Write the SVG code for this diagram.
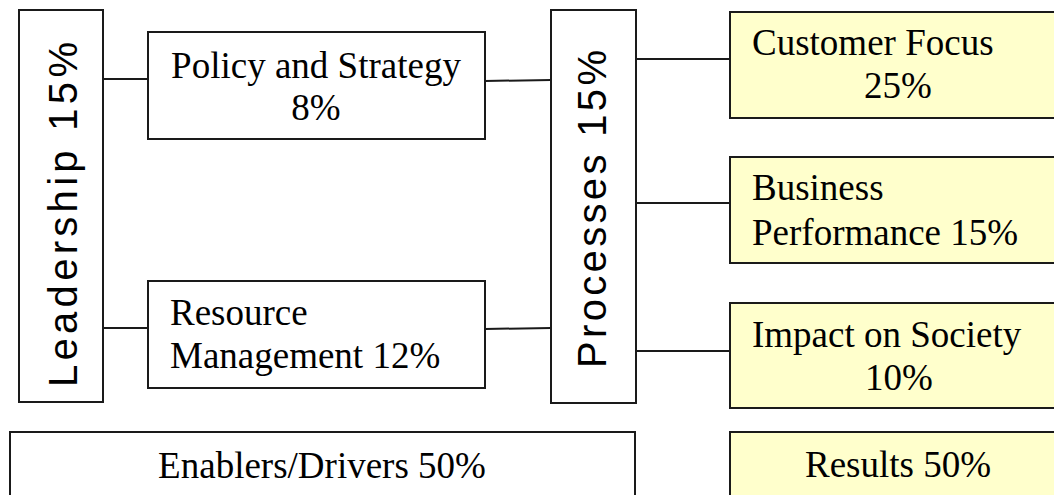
<svg xmlns="http://www.w3.org/2000/svg" width="1054" height="495" viewBox="0 0 1054 495">
  <style>
    .box { fill: #ffffff; stroke: #1a1a1a; stroke-width: 2; }
    .res { fill: #ffffcc; stroke: #1a1a1a; stroke-width: 2; }
    .serif { font-family: "Liberation Serif", "Times New Roman", serif; font-size: 37px; fill: #000; }
    .sans { font-family: "Liberation Sans", Arial, sans-serif; font-size: 40px; fill: #000; }
    .link { stroke: #1a1a1a; stroke-width: 2; fill: none; }
  </style>
  <rect width="1054" height="495" fill="#ffffff"/>

  <g id="connectors">
    <line class="link" x1="103" y1="79" x2="148" y2="79"/>
    <line class="link" x1="103" y1="328" x2="148" y2="328"/>
    <line class="link" x1="485" y1="81" x2="551" y2="80"/>
    <line class="link" x1="485" y1="329" x2="551" y2="328"/>
    <line class="link" x1="636" y1="59" x2="730" y2="59"/>
    <line class="link" x1="636" y1="203" x2="730" y2="203"/>
    <line class="link" x1="636" y1="351" x2="730" y2="351"/>
  </g>

  <g id="leadership">
    <rect class="box" x="19" y="10" width="84" height="392"/>
    <text class="sans" transform="translate(77,387) rotate(-90)" textLength="345" lengthAdjust="spacing">Leadership 15%</text>
  </g>

  <g id="policy-strategy">
    <rect class="box" x="148" y="32" width="337" height="107"/>
    <text class="serif" x="316" y="78" text-anchor="middle">Policy and Strategy</text>
    <text class="serif" x="316" y="120" text-anchor="middle">8%</text>
  </g>

  <g id="resource-management">
    <rect class="box" x="148" y="281" width="337" height="107"/>
    <text class="serif" x="170" y="325">Resource</text>
    <text class="serif" x="170" y="368">Management 12%</text>
  </g>

  <g id="processes">
    <rect class="box" x="551" y="10" width="85" height="393"/>
    <text class="sans" transform="translate(606,368) rotate(-90)" textLength="318" lengthAdjust="spacing">Processes 15%</text>
  </g>

  <g id="customer-focus">
    <rect class="res" x="730" y="12" width="340" height="106"/>
    <text class="serif" x="752" y="55">Customer Focus</text>
    <text class="serif" x="898" y="98" text-anchor="middle">25%</text>
  </g>

  <g id="business-performance">
    <rect class="res" x="730" y="157" width="340" height="106"/>
    <text class="serif" x="752" y="200">Business</text>
    <text class="serif" x="752" y="245">Performance 15%</text>
  </g>

  <g id="impact-society">
    <rect class="res" x="730" y="303" width="340" height="105"/>
    <text class="serif" x="752" y="347">Impact on Society</text>
    <text class="serif" x="899" y="390" text-anchor="middle">10%</text>
  </g>

  <g id="enablers">
    <rect class="box" x="10" y="432" width="625" height="80"/>
    <text class="serif" x="322" y="478" text-anchor="middle">Enablers/Drivers 50%</text>
  </g>

  <g id="results">
    <rect class="res" x="730" y="432" width="340" height="80"/>
    <text class="serif" x="898" y="477" text-anchor="middle">Results 50%</text>
  </g>
</svg>
